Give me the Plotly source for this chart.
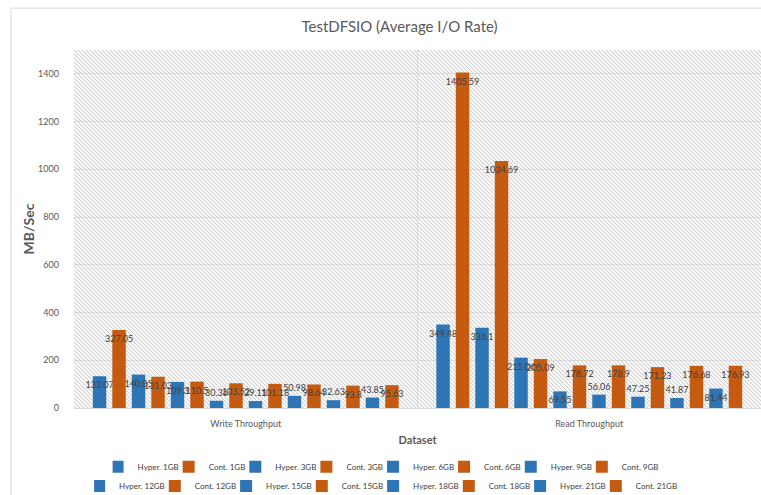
import base64
import plotly.graph_objects as go

# ---------------- data ----------------
categories = ["Write Throughput", "Read Throughput"]

hyper_1gb = [133.07, 349.48]
cont_1gb = [327.05, 1405.59]
hyper_3gb = [140.05, 336.1]
cont_3gb = [131.03, 1034.69]
hyper_6gb = [109.3, 211.06]
cont_6gb = [110.5, 205.09]
hyper_9gb = [30.36, 69.55]
cont_9gb = [103.52, 178.72]
hyper_12gb = [29.11, 56.06]
cont_12gb = [101.18, 178.9]
hyper_15gb = [50.98, 47.25]
cont_15gb = [98.64, 171.23]
hyper_18gb = [32.63, 41.87]
cont_18gb = [93.8, 176.68]
hyper_21gb = [43.85, 81.44]
cont_21gb = [95.63, 176.93]

series_names = ["Hyper. 1GB", "Cont. 1GB", "Hyper. 3GB", "Cont. 3GB",
                "Hyper. 6GB", "Cont. 6GB", "Hyper. 9GB", "Cont. 9GB",
                "Hyper. 12GB", "Cont. 12GB", "Hyper. 15GB", "Cont. 15GB",
                "Hyper. 18GB", "Cont. 18GB", "Hyper. 21GB", "Cont. 21GB"]
series_values = [hyper_1gb, cont_1gb, hyper_3gb, cont_3gb,
                 hyper_6gb, cont_6gb, hyper_9gb, cont_9gb,
                 hyper_12gb, cont_12gb, hyper_15gb, cont_15gb,
                 hyper_18gb, cont_18gb, hyper_21gb, cont_21gb]

y_ticks = [0, 200, 400, 600, 800, 1000, 1200, 1400]

# ---------------- style ----------------
BLUE = "#2E75B6"
ORANGE = "#C55A11"
FONT = "Lato"
GRID = "#d9d9d9"
TXT = "#595959"

fig = go.Figure()
for i, (name, vals) in enumerate(zip(series_names, series_values)):
    color = BLUE if name.startswith("Hyper") else ORANGE
    positions = ["inside" if v > 60 else "outside" for v in vals]
    fig.add_trace(go.Bar(
        name=name,
        x=categories,
        y=vals,
        marker=dict(color=color, line=dict(width=0)),
        text=[str(v) for v in vals],
        textposition=positions,
        insidetextanchor="end",
        textangle=0,
        constraintext="none",
        cliponaxis=False,
        textfont=dict(family=FONT, size=9, color="#404040"),
        legend="legend" if i < 8 else "legend2",
        hoverinfo="x+y+name",
    ))

# hatched plot background as an svg image
svg = (
    '<svg xmlns="http://www.w3.org/2000/svg" width="687" height="358">'
    '<defs><pattern id="p" width="4" height="4" patternUnits="userSpaceOnUse">'
    '<path d="M0,0 L4,4 M-1,3 L1,5 M3,-1 L5,1" stroke="#d0d0d0" stroke-width="1.1"/>'
    '</pattern></defs><rect width="100%" height="100%" fill="white"/>'
    '<rect width="100%" height="100%" fill="url(#p)"/></svg>'
)
src = "data:image/svg+xml;base64," + base64.b64encode(svg.encode()).decode()

legend_common = dict(
    orientation="h",
    xref="container", yref="container",
    xanchor="center", yanchor="middle",
    x=0.51,
    font=dict(family=FONT, size=8, color="#404040"),
    bgcolor="rgba(0,0,0,0)",
    indentation=-15,
    itemclick=False, itemdoubleclick=False,
)

fig.update_layout(
    width=761, height=495,
    margin=dict(l=74, r=0, t=50, b=87),
    paper_bgcolor="white",
    plot_bgcolor="white",
    barmode="group",
    bargap=0.092,
    bargroupgap=0.31,
    font=dict(family=FONT, color=TXT),
    title=dict(text="TestDFSIO (Average I/O Rate)", x=0.525, xref="container",
               xanchor="center", y=0.945, yref="container", yanchor="middle",
               font=dict(family=FONT, size=15, color=TXT)),
    legend=dict(legend_common, y=0.057),
    legend2=dict(legend_common, y=0.018),
    showlegend=True,
    images=[dict(source=src, xref="paper", yref="paper", x=0, y=1,
                 sizex=1, sizey=1, xanchor="left", yanchor="top",
                 sizing="stretch", layer="below")],
    shapes=[dict(type="rect", xref="paper", yref="paper",
                 x0=-0.0917, x1=1.3, y0=-0.4, y1=1.117,
                 line=dict(color=GRID, width=1), fillcolor="rgba(0,0,0,0)",
                 layer="below")],
)

fig.update_xaxes(
    type="category",
    tickson="boundaries",
    showgrid=True, gridcolor=GRID, gridwidth=1,
    showline=True, linecolor=GRID, linewidth=1,
    ticks="", ticklen=0,
    tickfont=dict(family=FONT, size=9, color=TXT),
    ticklabelstandoff=7,
    title=dict(text="<b>Dataset</b>", font=dict(family=FONT, size=11, color=TXT),
               standoff=8),
    automargin=False,
)
fig.update_yaxes(
    range=[0, 1500],
    tickvals=y_ticks,
    showgrid=True, gridcolor=GRID, gridwidth=1,
    zeroline=False, showline=False, ticks="",
    tickfont=dict(family=FONT, size=9, color=TXT),
    ticklabelstandoff=14,
    title=dict(text="<b>MB/Sec</b>", font=dict(family=FONT, size=14, color=TXT),
               standoff=0),
    automargin=False,
)

fig.write_html("out.html")
